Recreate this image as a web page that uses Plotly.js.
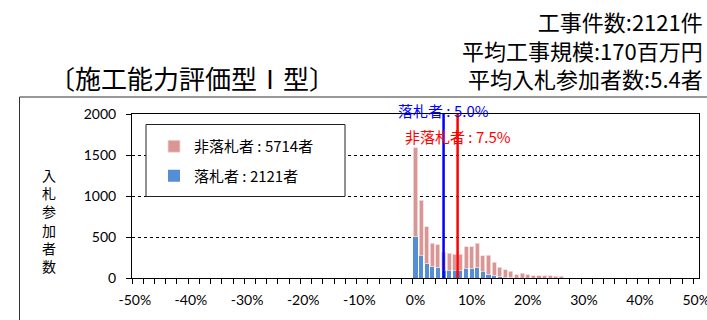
<!DOCTYPE html>
<html>
<head>
<meta charset="utf-8">
<script src="https://cdn.plot.ly/plotly-3.0.1.min.js"></script>
<style>
html,body{margin:0;padding:0;background:#fff;}
#chart{width:707px;height:320px;}
</style>
</head>
<body>
<div id="chart"></div>
<script>
// ---- data ----
const bins = [0,1,2,3,4,5,6,7,8,9,10,11,12,13,14,15,16,17,18,19,20,21,22,23,24,25,26];
const winners = [505,280,175,135,123,95,95,95,95,119,111,123,83,39,27,15,10,5,0,0,0,0,0,0,0,0,0];
const nonWinners = [1083,671,452,288,285,220,205,193,193,261,269,300,189,237,168,116,89,78,42,55,40,30,27,26,25,24,22];
const seriesNames = ['落札者', '非落札者'];
const seriesCounts = [2121, 5714];
const avgRates = [5.0, 7.5];
const xTickVals = [-50,-40,-30,-20,-10,0,10,20,30,40,50];
const xTickText = ['-50%','-40%','-30%','-20%','-10%','0%','10%','20%','30%','40%','50%'];
const yTickVals = [0,500,1000,1500,2000];
const titleText = '〔施工能力評価型Ⅰ型〕';
const infoLines = ['工事件数:2121件', '平均工事規模:170百万円', '平均入札参加者数:5.4者'];
const yTitleChars = ['入','札','参','加','者','数'];

const JP = "'Noto Sans CJK JP', sans-serif";
const NUM = "Lato, 'Noto Sans CJK JP', sans-serif";

const traces = [
  {
    type: 'bar', x: bins, y: winners,
    name: seriesNames[0] + ' : ' + seriesCounts[0] + '者',
    legendgroup: 'w', legendrank: 2,
    width: 0.72,
    marker: {color: '#558ED5', line: {width: 0}},
    hoverinfo: 'skip'
  },
  {
    type: 'bar', x: bins, y: nonWinners,
    name: seriesNames[1] + ' : ' + seriesCounts[1] + '者',
    legendgroup: 'n', legendrank: 1,
    width: 0.72,
    marker: {color: '#DA9694', line: {width: 0.8, color: '#F2DCDB'}},
    hoverinfo: 'skip'
  }
];

const L = 132, R = 8, T = 114, B = 42, W = 707, H = 320;
const pw = W - L - R, ph = H - T - B;
const px2x = p => (p - L) / pw;
const py2y = p => (H - B - p) / ph;

const annotations = [
  {xref:'paper', yref:'paper', x: px2x(192), y: py2y(77), xanchor:'center', yanchor:'middle',
   text: titleText, showarrow:false, borderpad:0, font:{family: JP, size: 26, color:'#000'}},
  {xref:'paper', yref:'paper', x: px2x(704), y: py2y(49.5), xanchor:'right', yanchor:'middle',
   text: infoLines.join('<br>'), align:'right', showarrow:false, borderpad:0,
   font:{family: JP, size: 22, color:'#000'}},
  {xref:'paper', yref:'paper', x: px2x(49), y: py2y(220), xanchor:'center', yanchor:'middle',
   text: yTitleChars.join('<br>'), showarrow:false, font:{family: JP, size: 14, color:'#000'}},
  {xref:'x', yref:'paper', x: avgRates[0], y: py2y(110), xanchor:'center', yanchor:'middle',
   text: '落札者 : ' + avgRates[0].toFixed(1) + '%', showarrow:false,
   font:{family: JP, size: 15, color:'#0000FF'}},
  {xref:'x', yref:'paper', x: avgRates[1], y: py2y(136), xanchor:'center', yanchor:'middle',
   text: '非落札者 : ' + avgRates[1].toFixed(1) + '%', showarrow:false,
   font:{family: JP, size: 15, color:'#FF0000'}}
];

const shapes = [
  // outer chart frame
  {type:'rect', xref:'paper', yref:'paper', x0: px2x(19.5), x1: px2x(720), y0: py2y(340), y1: py2y(97),
   line:{color:'#333', width:1}, fillcolor:'rgba(0,0,0,0)', layer:'below'},
  // legend box
  {type:'rect', xref:'paper', yref:'paper', x0: px2x(146), x1: px2x(345), y0: py2y(196.5), y1: py2y(124.5),
   line:{color:'#222', width:1}, fillcolor:'#fff', layer:'above'},
  // average lines
  {type:'line', xref:'x', yref:'paper', x0: avgRates[0], x1: avgRates[0], y0: 0, y1: 1,
   line:{color:'#0000FF', width:2.5}},
  {type:'line', xref:'x', yref:'paper', x0: avgRates[1], x1: avgRates[1], y0: 0, y1: 1,
   line:{color:'#FF0000', width:2.5}}
];

const layout = {
  width: W, height: H,
  margin: {l: L, r: R, t: T, b: B, pad: 0},
  paper_bgcolor: '#fff', plot_bgcolor: '#fff',
  barmode: 'stack',
  showlegend: true,
  legend: {
    x: px2x(154), y: py2y(130), xanchor:'left', yanchor:'top',
    bgcolor:'rgba(0,0,0,0)', borderwidth: 0,
    traceorder: 'grouped', tracegroupgap: 7,
    font: {family: JP, size: 15, color:'#000'}
  },
  xaxis: {
    type:'linear', range:[-50.5, 50.5], fixedrange:true,
    tickmode:'array', tickvals: xTickVals, ticktext: xTickText,
    ticks:'outside', ticklen: 9, tickcolor:'rgba(0,0,0,0)',
    ticklabeloverflow: 'allow',
    minor: {tickmode:'linear', tick0:-50.5, dtick:2, ticks:'outside', ticklen:5, tickcolor:'#000', tickwidth:1, showgrid:false},
    showline:true, linecolor:'#000', linewidth:1, mirror:true,
    showgrid:false, zeroline:false,
    tickfont:{family: NUM, size: 14, color:'#000'}
  },
  yaxis: {
    range:[0, 2000], fixedrange:true,
    tickmode:'array', tickvals: yTickVals,
    ticks:'outside', ticklen:5, tickcolor:'#000',
    showline:true, linecolor:'#000', linewidth:1, mirror:true,
    showgrid:true, gridcolor:'#000', gridwidth:1, griddash:'dot',
    zeroline:false,
    ticklabelstandoff: 7,
    tickfont:{family: NUM, size: 14, color:'#000'}
  },
  annotations: annotations,
  shapes: shapes,
  hovermode: false
};

Plotly.newPlot('chart', traces, layout, {displayModeBar:false, staticPlot:true});
</script>
</body>
</html>
